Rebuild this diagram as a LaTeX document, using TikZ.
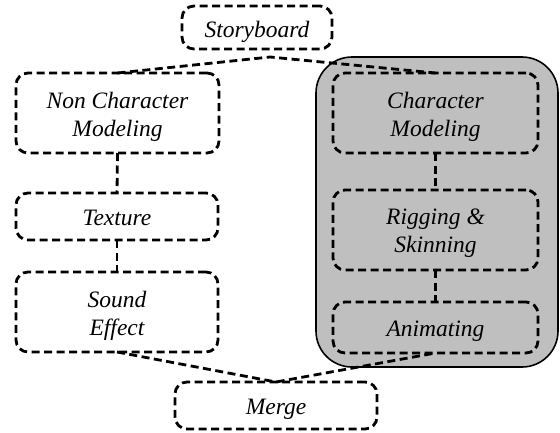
\documentclass[tikz,border=0pt]{standalone}
\usepackage{fontspec}
\setmainfont{Liberation Serif}
\begin{document}
\begin{tikzpicture}[x=1pt,y=-1pt,
  stage/.style={draw=black, line width=2.8pt, dash pattern=on 8pt off 4.5pt,
    rounded corners=12pt, inner sep=0pt, outer sep=0pt},
  stagetext/.style={align=center, inner sep=0pt,
    font=\itshape\fontsize{23.5}{28}\selectfont},
  link/.style={draw=black, line width=2.8pt, dash pattern=on 8pt off 4.5pt},
  group/.style={draw=black, line width=1.6pt, fill=gray!50, rounded corners=36pt}]
\useasboundingbox (0,0) rectangle (560,432);

% shaded group holding the character pipeline
\path[group] (316,57) rectangle (558,367);

% stage boxes
\node[stage, minimum width=150pt, minimum height=43pt] (story) at (257,27.5) {};
\node[stage, minimum width=203pt, minimum height=80pt] (noncm) at (117.5,113) {};
\node[stage, minimum width=202pt, minimum height=47pt] (texture) at (117,216.5) {};
\node[stage, minimum width=202pt, minimum height=80pt] (sound) at (117,312) {};
\node[stage, minimum width=205pt, minimum height=80pt] (charm) at (435.5,113) {};
\node[stage, minimum width=205pt, minimum height=80pt] (rig) at (435.5,230) {};
\node[stage, minimum width=205pt, minimum height=51pt] (anim) at (435.5,327.5) {};
\node[stage, minimum width=202pt, minimum height=47pt] (merge) at (276,405.5) {};

% stage captions, set a little below each box centre
\node[stagetext] (story-t) at ([yshift=-4.5pt]story.center) {Storyboard};
\node[stagetext] (noncm-t) at ([yshift=-3.5pt]noncm.center) {Non Character\\Modeling};
\node[stagetext] (texture-t) at ([yshift=-1.5pt]texture.center) {Texture};
\node[stagetext] (sound-t) at ([yshift=-3.5pt]sound.center) {Sound\\Effect};
\node[stagetext] (charm-t) at ([yshift=-3.5pt]charm.center) {Character\\Modeling};
\node[stagetext] (rig-t) at ([yshift=-3.5pt]rig.center) {Rigging \&\\Skinning};
\node[stagetext] (anim-t) at ([yshift=-3.5pt]anim.center) {Animating};
\node[stagetext] (merge-t) at ([yshift=-4pt]merge.center) {Merge};

% connectors
\coordinate (split) at (270,57);
\draw[link] (noncm.north) -- (split) -- (charm.north);
\draw[link] (noncm.south) -- (texture.north);
\draw[link] (texture.south) -- (sound.north);
\draw[link] (charm.south) -- (rig.north);
\draw[link] (rig.south) -- (anim.north);
\draw[link] (sound.south) -- (merge.north) -- (anim.south);
\end{tikzpicture}
\end{document}
